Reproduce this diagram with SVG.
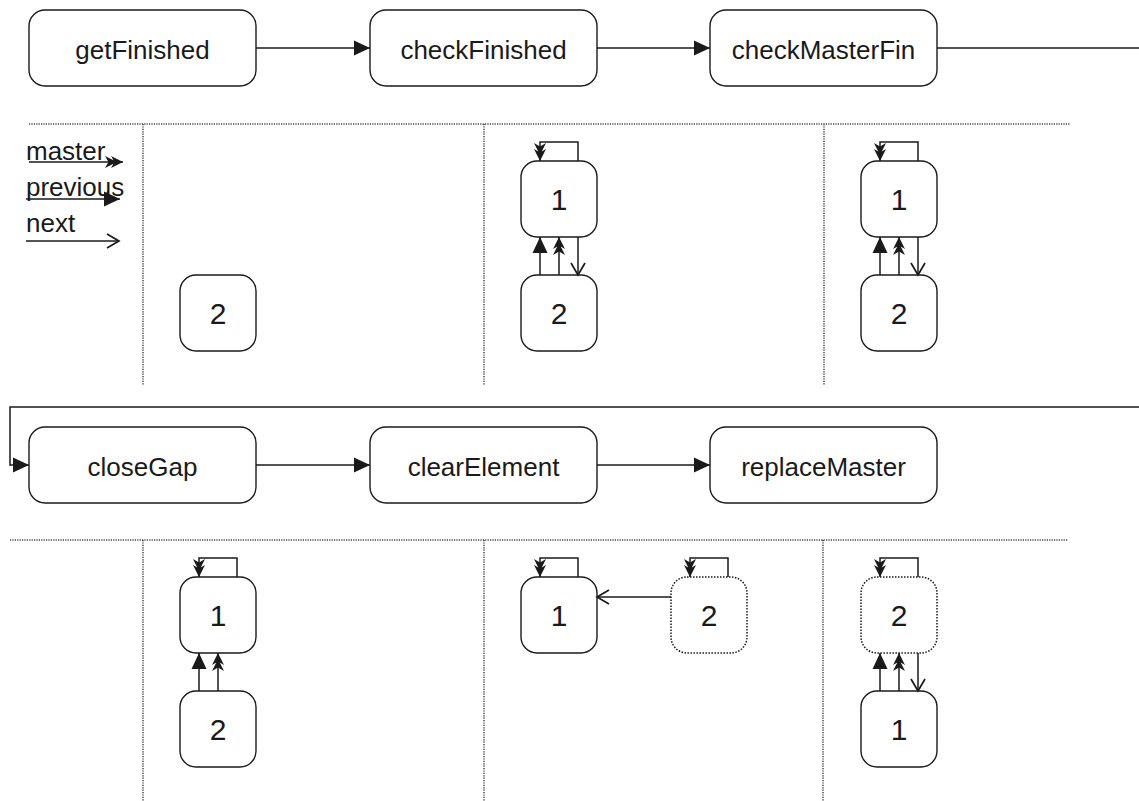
<svg xmlns="http://www.w3.org/2000/svg" width="1139" height="801" viewBox="0 0 1139 801">
<defs>
<style>
.box{fill:#fff;stroke:#1a1a1a;stroke-width:1.4}
.dbox{fill:#fff;stroke:#1a1a1a;stroke-width:1.5;stroke-dasharray:1.5,1.5}
.lbl{font-family:"Liberation Sans",Arial,sans-serif;font-size:26px;fill:#1a1a1a;text-anchor:middle}
.num{font-family:"Liberation Sans",Arial,sans-serif;font-size:30px;fill:#1a1a1a;text-anchor:middle}
.leg{font-family:"Liberation Sans",Arial,sans-serif;font-size:26px;fill:#1a1a1a}
.ln{fill:none;stroke:#1a1a1a;stroke-width:1.5}
.sep{fill:none;stroke:#444;stroke-width:1.5;stroke-dasharray:1.2,1.2}
</style>
<marker id="tri" markerUnits="userSpaceOnUse" viewBox="0 0 16 15" refX="16" refY="7.5" markerWidth="16" markerHeight="15" orient="auto" overflow="visible">
<path d="M0,0 L16,7.5 L0,15 z" fill="#1a1a1a"/>
</marker>
<marker id="dbl" markerUnits="userSpaceOnUse" viewBox="0 0 16 12" refX="16" refY="6" markerWidth="16" markerHeight="12" orient="auto" overflow="visible">
<path d="M16,6 L4,0 L7.5,6 L4,12 z M10,6 L-2,0 L1.5,6 L-2,12 z" fill="#1a1a1a"/>
</marker>
<marker id="opn" markerUnits="userSpaceOnUse" viewBox="0 0 12 16" refX="12" refY="8" markerWidth="12" markerHeight="16" orient="auto" overflow="visible">
<path d="M0,1 L12,8 L0,15" fill="none" stroke="#1a1a1a" stroke-width="1.7"/>
</marker>
</defs>
<rect width="1139" height="801" fill="#fff"/>

<g id="separators">
<path class="sep" d="M29,124 H1070 M143,124 V385 M484,124 V385 M824,124 V385"/>
<path class="sep" d="M10,540 H1068 M143,540 V801 M484,540 V801 M823,540 V801"/>
</g>

<g id="legend">
<text class="leg" x="26" y="160">master</text>
<text class="leg" x="26" y="196">previous</text>
<text class="leg" x="26" y="232">next</text>
<path class="ln" d="M29,162 H123" marker-end="url(#dbl)"/>
<path class="ln" d="M26,199 H120" marker-end="url(#tri)"/>
<path class="ln" d="M26,241 H119" marker-end="url(#opn)"/>
</g>

<g id="getFinished"><rect class="box" x="29" y="10" width="227" height="76" rx="16"/><text class="lbl" x="142.5" y="59">getFinished</text></g>
<g id="checkFinished"><rect class="box" x="370" y="10" width="227" height="76" rx="16"/><text class="lbl" x="483.5" y="59">checkFinished</text></g>
<g id="checkMasterFin"><rect class="box" x="710" y="10" width="227" height="76" rx="16"/><text class="lbl" x="823.5" y="59">checkMasterFin</text></g>
<g id="closeGap"><rect class="box" x="29" y="427" width="227" height="76" rx="16"/><text class="lbl" x="142.5" y="476">closeGap</text></g>
<g id="clearElement"><rect class="box" x="370" y="427" width="227" height="76" rx="16"/><text class="lbl" x="483.5" y="476">clearElement</text></g>
<g id="replaceMaster"><rect class="box" x="710" y="427" width="227" height="76" rx="16"/><text class="lbl" x="823.5" y="476">replaceMaster</text></g>

<g id="p1-n2"><rect class="box" x="180" y="275" width="76" height="76" rx="16"/><text class="num" x="218" y="324">2</text></g>
<g id="p2-n1"><rect class="box" x="521" y="161" width="76" height="76" rx="16"/><text class="num" x="559" y="210">1</text></g>
<g id="p2-n2"><rect class="box" x="521" y="275" width="76" height="76" rx="16"/><text class="num" x="559" y="324">2</text></g>
<g id="p3-n1"><rect class="box" x="861" y="161" width="76" height="76" rx="16"/><text class="num" x="899" y="210">1</text></g>
<g id="p3-n2"><rect class="box" x="861" y="275" width="76" height="76" rx="16"/><text class="num" x="899" y="324">2</text></g>
<g id="p4-n1"><rect class="box" x="180" y="577" width="76" height="76" rx="16"/><text class="num" x="218" y="626">1</text></g>
<g id="p4-n2"><rect class="box" x="180" y="691" width="76" height="76" rx="16"/><text class="num" x="218" y="740">2</text></g>
<g id="p5-n1"><rect class="box" x="521" y="577" width="76" height="76" rx="16"/><text class="num" x="559" y="626">1</text></g>
<g id="p5-n2"><rect class="dbox" x="671" y="577" width="76" height="76" rx="16"/><text class="num" x="709" y="626">2</text></g>
<g id="p6-n2"><rect class="dbox" x="861" y="577" width="76" height="76" rx="16"/><text class="num" x="899" y="626">2</text></g>
<g id="p6-n1"><rect class="box" x="861" y="691" width="76" height="76" rx="16"/><text class="num" x="899" y="740">1</text></g>

<g id="connectors">
<path class="ln" d="M256,48 H370" marker-end="url(#tri)"/>
<path class="ln" d="M597,48 H710" marker-end="url(#tri)"/>
<path class="ln" d="M937,48 H1141 V407 H10 V465 H29" marker-end="url(#tri)"/>
<path class="ln" d="M256,465 H370" marker-end="url(#tri)"/>
<path class="ln" d="M597,465 H710" marker-end="url(#tri)"/>

<path class="ln" d="M578,161 V142 H540 V161" marker-end="url(#dbl)"/>
<path class="ln" d="M540,275 V237" marker-end="url(#tri)"/>
<path class="ln" d="M559,275 V237" marker-end="url(#dbl)"/>
<path class="ln" d="M578,237 V275" marker-end="url(#opn)"/>

<path class="ln" d="M918,161 V142 H880 V161" marker-end="url(#dbl)"/>
<path class="ln" d="M880,275 V237" marker-end="url(#tri)"/>
<path class="ln" d="M899,275 V237" marker-end="url(#dbl)"/>
<path class="ln" d="M918,237 V275" marker-end="url(#opn)"/>

<path class="ln" d="M237,577 V558 H199 V577" marker-end="url(#dbl)"/>
<path class="ln" d="M199,691 V653" marker-end="url(#tri)"/>
<path class="ln" d="M218,691 V653" marker-end="url(#dbl)"/>

<path class="ln" d="M578,577 V558 H540 V577" marker-end="url(#dbl)"/>
<path class="ln" d="M728,577 V558 H690 V577" marker-end="url(#dbl)"/>
<path class="ln" d="M671,597 H597" marker-end="url(#opn)"/>

<path class="ln" d="M918,577 V558 H880 V577" marker-end="url(#dbl)"/>
<path class="ln" d="M880,691 V653" marker-end="url(#tri)"/>
<path class="ln" d="M899,691 V653" marker-end="url(#dbl)"/>
<path class="ln" d="M918,653 V691" marker-end="url(#opn)"/>
</g>
</svg>
